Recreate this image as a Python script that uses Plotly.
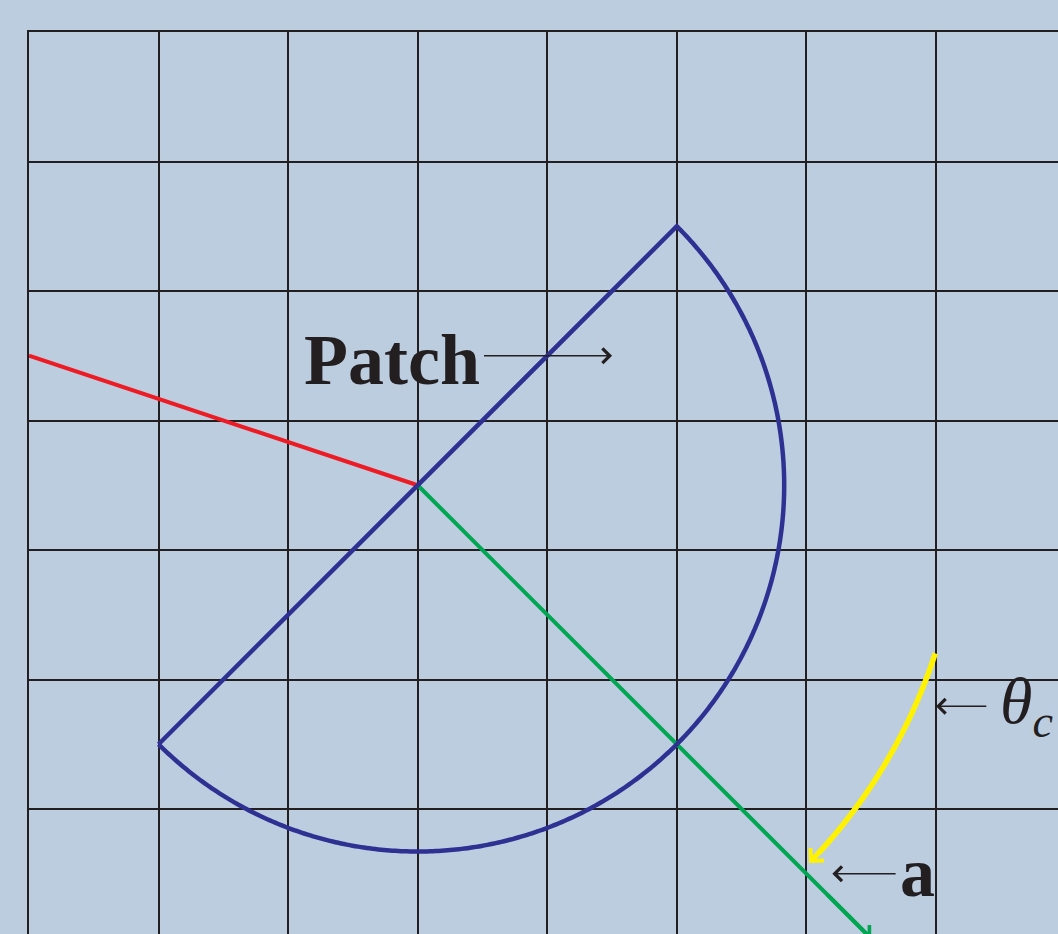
import numpy as np
import plotly.graph_objects as go

# ---- data (in grid units, centre of patch at origin) ----
patch_center = [0.0, 0.0]
patch_radius = 2 * np.sqrt(2)
patch_angles_deg = [45, -135]          # semicircle, clockwise
red_ray = {"x": [0, -3], "y": [0, 1]}
green_ray = {"x": [0, 3.5], "y": [0, -3.5]}
yellow_radius = 4.2
yellow_angles_deg = [-18, -44]

labels = ["Patch", "<i>θ</i><sub><i>c</i></sub>", "<b>a</b>"]
label_x = [-0.2, 4.70, 3.86]
label_y = [0.97, -1.70, -2.99]
arrow_tail_x = [0.5, 4.40, 3.70]
arrow_tail_y = [1.0, -1.707, -3.0]
arrow_head_x = [1.5, 4.0, 3.20]
arrow_head_y = [1.0, -1.707, -3.0]

BG = "#BDCDE0"
GRID = "#231F20"
BLUE = "#2E3192"
RED = "#ED1C24"
GREEN = "#00A651"
YELLOW = "#FFF200"

fig = go.Figure()

# patch outline
a = np.radians(np.linspace(patch_angles_deg[0], patch_angles_deg[1], 400))
arc_x = patch_center[0] + patch_radius * np.cos(a)
arc_y = patch_center[1] + patch_radius * np.sin(a)
px = np.concatenate([[arc_x[-1]], arc_x])
py = np.concatenate([[arc_y[-1]], arc_y])

fig.add_trace(go.Scatter(x=red_ray["x"], y=red_ray["y"], mode="lines",
                         line=dict(color=RED, width=4), hoverinfo="skip"))
fig.add_trace(go.Scatter(x=green_ray["x"], y=green_ray["y"], mode="lines",
                         line=dict(color=GREEN, width=4), hoverinfo="skip"))
fig.add_trace(go.Scatter(x=px, y=py, mode="lines",
                         line=dict(color=BLUE, width=4.5, simplify=False), hoverinfo="skip"))

# yellow angle arc
ya = np.radians(np.linspace(yellow_angles_deg[0], yellow_angles_deg[1] + 1.5, 200))
yx = yellow_radius * np.cos(ya)
yy = yellow_radius * np.sin(ya)
fig.add_trace(go.Scatter(x=yx, y=yy, mode="lines",
                         line=dict(color=YELLOW, width=5.5, simplify=False), hoverinfo="skip"))

ann = []
# yellow arrow head
ye = np.radians(yellow_angles_deg[1])
yb = np.radians(yellow_angles_deg[1] + 3)
ann.append(dict(x=yellow_radius * np.cos(ye), y=yellow_radius * np.sin(ye),
                ax=yellow_radius * np.cos(yb), ay=yellow_radius * np.sin(yb),
                xref="x", yref="y", axref="x", ayref="y", text="",
                showarrow=True, arrowhead=4, arrowwidth=5, arrowsize=0.7,
                arrowcolor=YELLOW, standoff=0, startstandoff=0))
# green arrow head
ann.append(dict(x=green_ray["x"][1], y=green_ray["y"][1],
                ax=green_ray["x"][1] * 0.9, ay=green_ray["y"][1] * 0.9,
                xref="x", yref="y", axref="x", ayref="y", text="",
                showarrow=True, arrowhead=4, arrowwidth=4, arrowsize=0.8,
                arrowcolor=GREEN, standoff=0, startstandoff=0))

# black label arrows
for tx, ty, hx, hy in zip(arrow_tail_x, arrow_tail_y, arrow_head_x, arrow_head_y):
    ann.append(dict(x=hx, y=hy, ax=tx, ay=ty, xref="x", yref="y", axref="x", ayref="y",
                    text="", showarrow=True, arrowhead=4, arrowwidth=1.5,
                    arrowsize=1.9, arrowcolor=GRID, standoff=0, startstandoff=0))

fonts = [dict(family="Liberation Serif", size=72, color=GRID),
         dict(family="Liberation Serif", size=66, color=GRID),
         dict(family="Liberation Serif", size=70, color=GRID)]
for t, x, y, f in zip(labels, label_x, label_y, fonts):
    ann.append(dict(x=x, y=y, xref="x", yref="y", text=("<b>%s</b>" % t) if t == "Patch" else t,
                    showarrow=False, font=f, xanchor="center", yanchor="middle"))

fig.update_layout(
    width=1058, height=934,
    margin=dict(l=29, r=0, t=32, b=0),
    paper_bgcolor=BG, plot_bgcolor=BG,
    showlegend=False,
    annotations=ann,
    xaxis=dict(range=[-3, -3 + 1029 / 129.57], tick0=0, dtick=1, showgrid=True,
               gridcolor=GRID, gridwidth=1.5, zeroline=False, showticklabels=False,
               ticks="", side="top", showline=True, linecolor=GRID, linewidth=1.5),
    yaxis=dict(range=[3.5 - 902 / 129.5, 3.5], tick0=0.5, dtick=1, showgrid=True,
               gridcolor=GRID, gridwidth=1.5, zeroline=False, showticklabels=False,
               ticks="", showline=True, linecolor=GRID, linewidth=1.5),
)

fig.write_html("out.html", config={"displayModeBar": False},
               post_script="document.body.style.margin='0';document.body.style.overflow='hidden';document.body.style.background='%s';" % BG)
